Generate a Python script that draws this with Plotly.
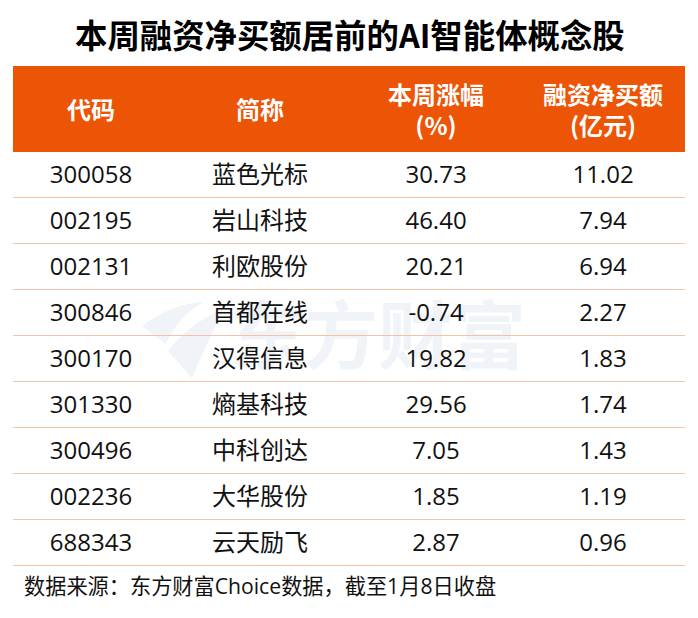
import plotly.graph_objects as go

W, H = 698, 618
title = "本周融资净买额居前的AI智能体概念股"
source = "数据来源：东方财富Choice数据，截至1月8日收盘"
headers = ["代码", "简称", "本周涨幅<br>(%)", "融资净买额<br>(亿元)"]
codes = ["300058", "002195", "002131", "300846", "300170", "301330", "300496", "002236", "688343"]
names = ["蓝色光标", "岩山科技", "利欧股份", "首都在线", "汉得信息", "熵基科技", "中科创达", "大华股份", "云天励飞"]
changes = ["30.73", "46.40", "20.21", "-0.74", "19.82", "29.56", "7.05", "1.85", "2.87"]
buys = ["11.02", "7.94", "6.94", "2.27", "1.83", "1.74", "1.43", "1.19", "0.96"]

FONT = "Open Sans, Noto Sans CJK SC, sans-serif"
BOLD = "Noto Sans CJK SC, sans-serif"
ORANGE = "#ec5506"
RULE = "#f4c2a6"
L, R, T, B = 13, 685, 66, 566
col_edges = [13, 169, 351, 521, 685]
col_w = [b - a for a, b in zip(col_edges, col_edges[1:])]
col_c = [(a + b) / 2 for a, b in zip(col_edges, col_edges[1:])]

fig = go.Figure(go.Table(
    domain=dict(x=[col_edges[0] / W, col_edges[-1] / W], y=[1 - 582 / H, 1 - T / H]),
    columnwidth=col_w,
    header=dict(
        values=[""] * 4,
        height=91,
        fill_color="rgba(0,0,0,0)",
        line_width=0,
    ),
    cells=dict(
        values=[codes, names, changes, buys],
        height=46,
        fill_color="rgba(0,0,0,0)",
        line_width=0,
        align="center",
        font=dict(family=FONT, size=24, color="#111111"),
    ),
))

def xn(x):
    return x / W

def yn(y):
    return 1 - y / H

def px(x, y):
    return f"{xn(x):.4f},{yn(y):.4f}"

wm = "#f0f4f8"
shapes = [
    dict(type="rect", xref="paper", yref="paper", x0=xn(L), x1=xn(R), y0=yn(152), y1=yn(T),
         fillcolor=ORANGE, line_width=0, layer="below"),
    dict(type="rect", xref="paper", yref="paper", x0=xn(230), x1=xn(526), y0=yn(381), y1=yn(303),
         fillcolor="rgba(0,0,0,0)", line_width=0, layer="below",
         label=dict(text="<b>东方财富</b>", textposition="middle center",
                    font=dict(family=BOLD, size=74, color=wm))),
]
for pts in (
    "M " + px(142, 326) + " Q " + px(170, 304) + " " + px(204, 302) + " Q " + px(178, 316) + " " + px(166, 344) + " Z",
    "M " + px(168, 351) + " Q " + px(186, 326) + " " + px(224, 308) + " Q " + px(208, 341) + " " + px(192, 378) + " Z",
):
    shapes.append(dict(type="path", xref="paper", yref="paper", path=pts, fillcolor=wm,
                       line_width=0, layer="below"))
for i in range(1, len(codes) + 1):
    y = yn(152 + 46 * i - 0.5)
    shapes.append(dict(type="line", xref="paper", yref="paper", x0=xn(L), x1=xn(R), y0=y, y1=y,
                       line=dict(color=RULE, width=1), layer="below"))

annotations = [
    dict(text=f"<b>{title}</b>", x=xn(349.5), y=yn(33.5), xref="paper", yref="paper", showarrow=False,
         xanchor="center", yanchor="middle", font=dict(family=BOLD, size=32.4, color="#000000")),
    dict(text=source, x=xn(22), y=yn(585), xref="paper", yref="paper", showarrow=False,
         xanchor="left", yanchor="middle", font=dict(family=FONT, size=21.2, color="#111111")),
]
for cx, h in zip(col_c, headers):
    annotations.append(dict(text=f"<b>{h}</b>", x=xn(cx), y=yn(109), xref="paper", yref="paper",
                            showarrow=False, xanchor="center", yanchor="middle",
                            font=dict(family=BOLD, size=24, color="white")))

fig.update_layout(
    width=W, height=H,
    margin=dict(l=0, r=0, t=0, b=0),
    paper_bgcolor="white",
    shapes=shapes,
    annotations=annotations,
)
fig.write_html("out.html", config=dict(displayModeBar=False),
               post_script="document.body.style.margin='0';")
